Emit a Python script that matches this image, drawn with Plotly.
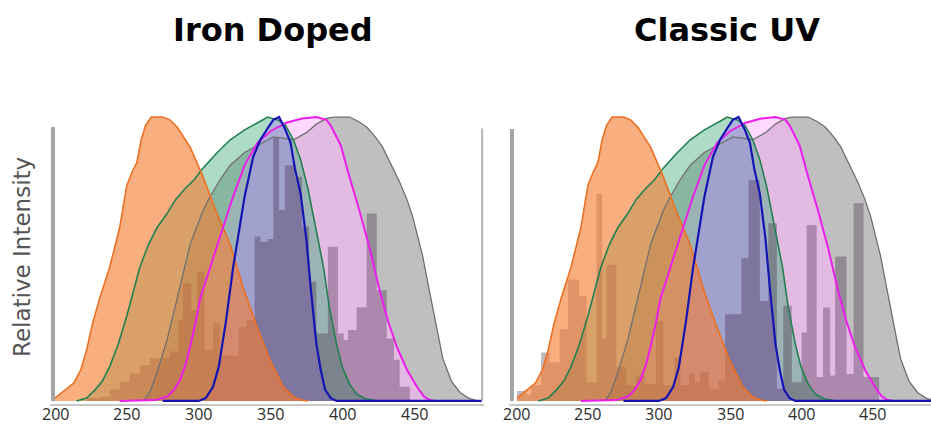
import plotly.graph_objects as go

# ---------------- data ----------------
TICKS = [200, 250, 300, 350, 400, 450]
TITLES = ["Iron Doped", "Classic UV"]
Y_TITLE = "Relative Intensity"

ORANGE_NM = [200, 205, 213, 218, 222, 226, 231, 238, 245, 250, 254, 257, 260, 263, 267, 275, 280, 285,
             294, 303, 312, 322, 331, 340, 350, 359, 366, 372, 376]
ORANGE_I = [0.01, 0.03, 0.063, 0.11, 0.18, 0.27, 0.36, 0.47, 0.61, 0.76, 0.81, 0.84, 0.92, 0.97, 1.0, 1.0,
            0.99, 0.965, 0.895, 0.79, 0.67, 0.55, 0.40, 0.27, 0.14, 0.05, 0.015, 0.003, 0.0]

GREEN_NM = [215, 222, 228, 233, 238, 244, 250, 255, 259, 265, 271, 278, 284, 290, 297, 303, 312, 322, 332,
            343, 348, 355, 360, 366, 371, 376, 380, 384, 387, 391, 396, 400, 405, 410, 416, 425, 497]
GREEN_I = [0.0, 0.01, 0.04, 0.07, 0.12, 0.2, 0.30, 0.39, 0.47, 0.55, 0.61, 0.66, 0.71, 0.745, 0.78, 0.82,
           0.87, 0.92, 0.955, 0.985, 1.0, 0.99, 0.975, 0.92, 0.85, 0.75, 0.65, 0.55, 0.47, 0.33, 0.2, 0.12,
           0.06, 0.025, 0.008, 0.0, 0.0]

GRAY_NM = [262, 266, 271, 278, 285, 294, 303, 308, 315, 322, 332, 343, 352, 360, 366, 375, 382, 389, 394,
           405, 411, 417, 423, 428, 435, 440, 445, 449, 452, 456, 461, 466, 470, 476, 482, 488, 494, 497]
GRAY_I = [0.0, 0.03, 0.10, 0.215, 0.36, 0.55, 0.67, 0.72, 0.78, 0.83, 0.875, 0.905, 0.93, 0.925, 0.92,
          0.945, 0.975, 0.995, 1.0, 1.0, 0.985, 0.965, 0.93, 0.895, 0.82, 0.77, 0.71, 0.65, 0.59, 0.51,
          0.38, 0.25, 0.15, 0.07, 0.03, 0.01, 0.0, 0.0]

MAGENTA_NM = [245, 270, 278, 283, 287, 291, 294, 298, 301, 305, 308, 315, 324, 332, 341, 350, 361, 372,
              382, 389, 392, 395, 399, 405, 412, 419, 426, 432, 438, 445, 452, 457, 461, 465, 497]
MAGENTA_I = [0.0, 0.003, 0.015, 0.04, 0.074, 0.13, 0.19, 0.28, 0.36, 0.42, 0.47, 0.58, 0.72, 0.83, 0.91,
             0.95, 0.98, 0.995, 1.0, 0.99, 0.97, 0.94, 0.9, 0.79, 0.67, 0.54, 0.39, 0.28, 0.19,
             0.11, 0.05, 0.015, 0.003, 0.0, 0.0]

BLUE_NM = [275, 300, 305, 310, 314, 319, 324, 329, 332, 338, 343, 348, 352, 356, 360, 364, 367, 371, 375,
           378, 382, 385, 388, 392, 396, 497]
BLUE_I = [0.0, 0.0, 0.01, 0.05, 0.12, 0.28, 0.47, 0.62, 0.72, 0.86, 0.92, 0.96, 0.99, 1.0, 0.96, 0.91,
          0.82, 0.73, 0.57, 0.40, 0.2, 0.11, 0.04, 0.01, 0.0, 0.0]

# histogram (bin edges in nm, heights)
IRON_EDGES = [222, 231, 238, 245, 252, 259, 266, 273, 280, 286, 289, 295, 299, 304, 310, 315, 328, 333,
              339, 343, 348, 352, 356, 360, 367, 372, 377, 382, 390, 397, 401, 404, 410, 417, 424, 431,
              436, 440, 447]
IRON_VALS = [0.01, 0.015, 0.04, 0.068, 0.097, 0.127, 0.15, 0.15, 0.174, 0.285, 0.415, 0.32, 0.455, 0.18,
             0.275, 0.16, 0.26, 0.285, 0.579, 0.561, 0.57, 0.93, 0.673, 0.83, 0.79, 0.614, 0.42, 0.238,
             0.543, 0.238, 0.215, 0.25, 0.33, 0.66, 0.39, 0.22, 0.145, 0.05]

UV_EDGES = [200, 207, 210, 217, 223, 230, 236, 244, 249, 256, 260, 263, 270, 277, 284, 290, 298, 303, 311,
            315, 321, 325, 329, 335, 342, 346.5, 358, 363, 371, 377, 383, 387.5, 393.5, 400.5, 404, 411,
            415.5, 420.5, 424, 432, 437, 444, 455]
UV_VALS = [0.035, 0.02, 0.055, 0.171, 0.136, 0.253, 0.428, 0.37, 0.066, 0.731, 0.218, 0.48, 0.119, 0.055,
           0.09, 0.06, 0.282, 0.055, 0.153, 0.055, 0.096, 0.066, 0.101, 0.043, 0.072, 0.305, 0.503, 0.777,
           0.352, 0.626, 0.043, 0.335, 0.066, 0.241, 0.62, 0.084, 0.329, 0.09, 0.509, 0.095, 0.696, 0.084]

# ---------------- styling ----------------
W, H = 931, 426
CURVES = {
    "gray": (GRAY_NM, GRAY_I, "rgb(112,112,112)", "rgba(128,128,128,0.5)", 1.3),
    "magenta": (MAGENTA_NM, MAGENTA_I, "rgb(235,30,235)", "rgba(255,182,255,0.55)", 2.0),
    "green": (GREEN_NM, GREEN_I, "rgb(34,128,80)", "rgba(60,170,120,0.42)", 1.6),
    "blue": (BLUE_NM, BLUE_I, "rgb(20,20,180)", "rgba(168,140,238,0.45)", 2.2),
    "orange": (ORANGE_NM, ORANGE_I, "rgb(236,112,36)", "rgba(245,125,50,0.62)", 1.6),
}
BAR_COLOR = "rgba(45,20,45,0.30)"

fig = go.Figure()


def add_panel(xa, ya, edges, vals):
    for k in ["gray", "magenta", "green", "blue"]:
        nm, it, lc, fc, lw = CURVES[k]
        fig.add_trace(go.Scatter(x=nm, y=it, mode="lines", fill="tozeroy", fillcolor=fc,
                                 line=dict(width=0, color=fc), xaxis=xa, yaxis=ya,
                                 hoverinfo="skip", showlegend=False))
    # histogram drawn as a step outline filled to zero
    sx = list(edges)
    sy = list(vals) + [0.0]
    fig.add_trace(go.Scatter(x=sx, y=sy, mode="lines", line_shape="hv", fill="tozeroy",
                             fillcolor=BAR_COLOR, line=dict(width=0, color=BAR_COLOR),
                             xaxis=xa, yaxis=ya, hoverinfo="skip", showlegend=False))
    nm, it, lc, fc, lw = CURVES["orange"]
    fig.add_trace(go.Scatter(x=nm, y=it, mode="lines", fill="tozeroy", fillcolor=fc,
                             line=dict(width=0, color=fc), xaxis=xa, yaxis=ya,
                             hoverinfo="skip", showlegend=False))
    for k in ["gray", "green", "orange", "magenta", "blue"]:
        nm, it, lc, fc, lw = CURVES[k]
        fig.add_trace(go.Scatter(x=nm, y=it, mode="lines", line=dict(width=lw, color=lc),
                                 xaxis=xa, yaxis=ya, hoverinfo="skip", showlegend=False))


add_panel("x", "y", IRON_EDGES, IRON_VALS)
add_panel("x2", "y2", UV_EDGES, UV_VALS)

YR = [-0.01, 1.06]
YDOM = [22.2 / H, 326 / H]
axis_common = dict(showticklabels=False, showgrid=False, zeroline=False,
                   showline=True, linecolor="rgb(200,200,200)", linewidth=2.5, ticks="")
fig.update_layout(
    width=W, height=H, margin=dict(l=0, r=0, t=0, b=0, autoexpand=False),
    paper_bgcolor="white", plot_bgcolor="white", hovermode=False,
    xaxis=dict(domain=[50 / W, 484 / W], range=[196.5, 498.7], anchor="y", **axis_common),
    xaxis2=dict(domain=[509 / W, 1.0], range=[194.4, 491.5], anchor="y2", **axis_common),
    yaxis=dict(domain=YDOM, range=YR, visible=False),
    yaxis2=dict(domain=YDOM, range=YR, visible=False, anchor="x2"),
)

shapes = [
    dict(type="line", xref="x", yref="y", x0=198.6, x1=198.6, y0=0, y1=0.965,
         line=dict(color="rgb(165,165,165)", width=4)),
    dict(type="line", xref="x", yref="y", x0=497.4, x1=497.4, y0=0, y1=0.96,
         line=dict(color="rgb(180,180,180)", width=2)),
    dict(type="line", xref="x2", yref="y2", x0=196.5, x1=196.5, y0=0, y1=0.958,
         line=dict(color="rgb(165,165,165)", width=4)),
]
fig.update_layout(shapes=shapes)

ann = []
for xr in ["x", "x2"]:
    for t in TICKS:
        ann.append(dict(text=str(t), x=t, xref=xr, y=1 - 414 / H, yref="paper", showarrow=False,
                        font=dict(family="Open Sans", size=16, color="rgb(45,45,45)"),
                        xanchor="center", yanchor="middle"))
ann += [
    dict(text="<b>%s</b>" % TITLES[0], x=273 / W, y=1 - 30 / H, xref="paper", yref="paper",
         showarrow=False, font=dict(family="DejaVu Sans", size=32, color="black"),
         xanchor="center", yanchor="middle"),
    dict(text="<b>%s</b>" % TITLES[1], x=727 / W, y=1 - 30 / H, xref="paper", yref="paper",
         showarrow=False, font=dict(family="DejaVu Sans", size=32, color="black"),
         xanchor="center", yanchor="middle"),
    dict(text=Y_TITLE, x=22 / W, y=1 - 257 / H, xref="paper", yref="paper", textangle=-90,
         showarrow=False, font=dict(family="DejaVu Sans", size=23, color="rgb(85,85,85)"),
         xanchor="center", yanchor="middle"),
]
fig.update_layout(annotations=ann)

fig.write_html("out.html", config={"displayModeBar": False, "staticPlot": True},
               post_script="document.body.style.margin='0';document.body.style.overflow='hidden';")
